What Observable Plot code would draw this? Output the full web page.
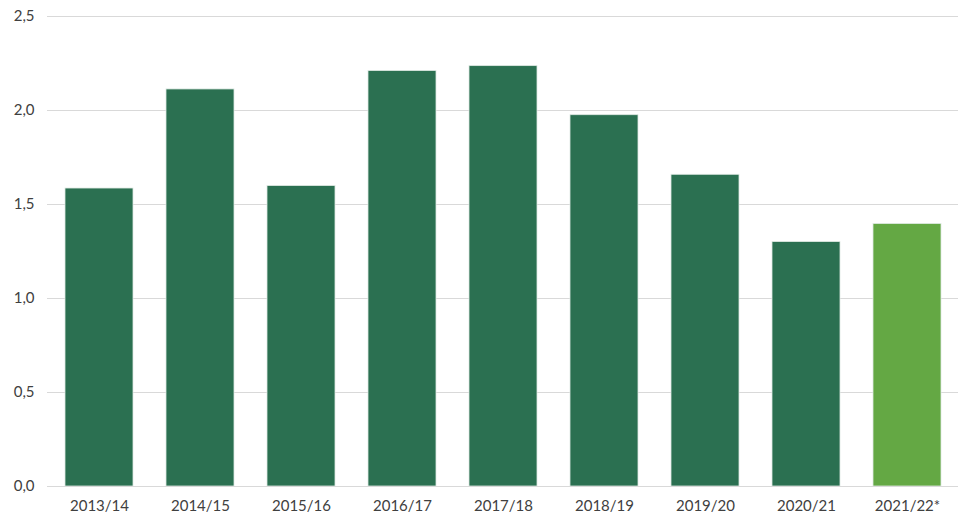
<!DOCTYPE html>
<html>
<head>
<meta charset="utf-8">
<script src="https://cdn.jsdelivr.net/npm/d3@7"></script>
<script src="https://cdn.jsdelivr.net/npm/@observablehq/plot@0.6"></script>
<style>
  body { margin: 0; background: #fff; }
  #chart svg { display: block; }
</style>
</head>
<body>
<div id="chart"></div>
<script>
const seasons = ["2013/14","2014/15","2015/16","2016/17","2017/18","2018/19","2019/20","2020/21","2021/22*"];
const values = [1.585, 2.112, 1.598, 2.210, 2.236, 1.975, 1.658, 1.300, 1.396];
const kinds = ["real","real","real","real","real","real","real","real","estimate"];
const yTicks = [0, 0.5, 1.0, 1.5, 2.0, 2.5];

const data = seasons.map((s, i) => ({season: s, value: values[i], kind: kinds[i]}));
const fmt = d => d.toFixed(1).replace(".", ",");

const chart = Plot.plot({
  width: 975,
  height: 527,
  marginLeft: 47,
  marginRight: 17,
  marginTop: 16,
  marginBottom: 41,
  style: {fontFamily: "Lato, sans-serif", fontSize: "15px", color: "#404040", background: "#fff"},
  x: {domain: seasons, paddingInner: 0.33, paddingOuter: 0.16, label: null, tickSize: 0, tickPadding: 14},
  y: {domain: [0, 2.5], ticks: yTicks, tickFormat: fmt, label: null, tickSize: 0, tickPadding: 13},
  color: {domain: ["real","estimate"], range: ["#2b7051","#64a844"]},
  marks: [
    Plot.gridY(yTicks, {stroke: "#d9d9d9", strokeOpacity: 1, strokeWidth: 1}),
    Plot.barY(data, {x: "season", y: "value", fill: "kind", stroke: "#dfe9e3", strokeWidth: 0.8}),
    Plot.ruleY([0], {stroke: "#d9d9d9"})
  ]
});
document.getElementById("chart").appendChild(chart);
</script>
</body>
</html>
